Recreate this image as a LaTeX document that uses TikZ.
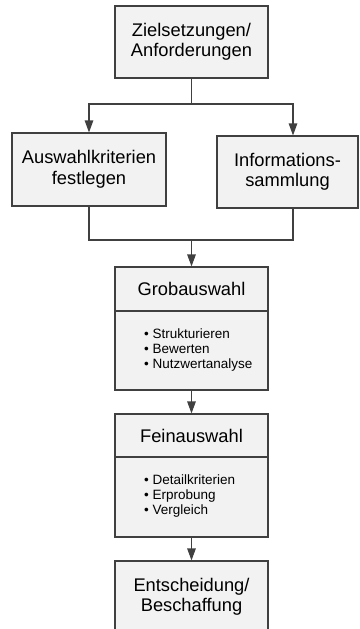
\documentclass[tikz,border=0pt]{standalone}
\usepackage{fontspec}
\setmainfont{Liberation Sans}
\usetikzlibrary{arrows.meta,calc}
\definecolor{boxfill}{HTML}{F2F2F2}
\definecolor{edge}{HTML}{404040}
\begin{document}
\begin{tikzpicture}[x=1pt,y=-1pt,
  box/.style={draw=edge,fill=boxfill,line width=1.1pt,inner sep=0pt,align=center,
    minimum width=153pt,font=\fontsize{18.3}{20.5}\selectfont},
  list/.style={align=left,inner sep=0pt,anchor=west,font=\fontsize{13.5}{14.7}\selectfont},
  conn/.style={draw=edge,line width=1.1pt},
  arr/.style={conn,-{Triangle[width=8.5pt,length=12pt]}}]
\useasboundingbox (0,0) rectangle (359,629);
\clip (0,0) rectangle (359,629);
\node[box,minimum height=72pt] (top) at (191.5,42) {Zielsetzungen/\\Anforderungen};
\node[box,minimum width=154pt,minimum height=73pt] (left) at (89,169.5) {Auswahlkriterien\\festlegen};
\node[box,minimum width=141pt,minimum height=72pt] (right) at (287.5,172) {Informations-\\sammlung};
\node[box,minimum height=44pt] (grobT) at (191.5,289) {Grobauswahl};
\node[box,minimum height=79pt] (grobB) at (191.5,350.5) {};
\node[box,minimum height=43pt] (feinT) at (191.5,435.5) {Feinauswahl};
\node[box,minimum height=80pt] (feinB) at (191.5,497) {};
\node[box,minimum height=72pt] (ent) at (191.5,597) {Entscheidung/\\Beschaffung};
\node[list] (grobL) at (144,350) {• Strukturieren\\• Bewerten\\• Nutzwertanalyse};
\node[list] (feinL) at (144,496) {• Detailkriterien\\• Erprobung\\• Vergleich};
\coordinate (split) at (191.5,104);
\coordinate (merge) at (191.5,240);
\draw[conn] (top.south) -- (split);
\draw[arr] (split) -| (left.north);
\draw[arr] (split) -| ([xshift=5.5pt]right.north);
\draw[conn] (left.south) |- (merge);
\draw[conn] ([xshift=5.5pt]right.south) |- (merge);
\draw[arr] (merge) -- (grobT.north);
\draw[arr] (grobB.south) -- (feinT.north);
\draw[arr] (feinB.south) -- (ent.north);
\end{tikzpicture}
\end{document}
